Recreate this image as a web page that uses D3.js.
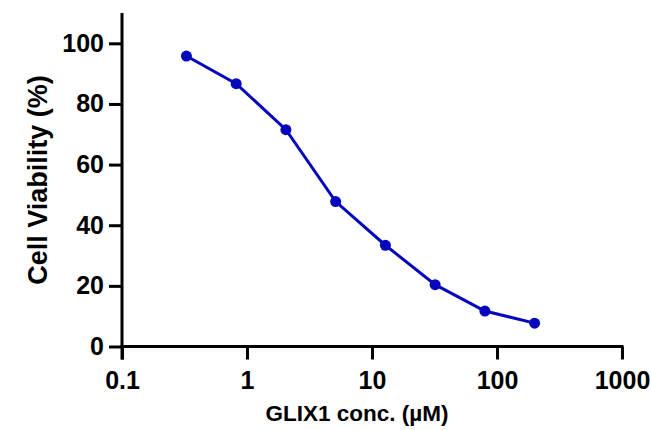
<!DOCTYPE html>
<html>
<head>
<meta charset="utf-8">
<script src="https://cdn.jsdelivr.net/npm/d3@7"></script>
<style>
  html, body { margin: 0; padding: 0; background: #fff; }
  svg { display: block; }
  text { font-family: "Liberation Sans", Arial, sans-serif; font-weight: bold; fill: #000; }
</style>
</head>
<body>
<svg id="chart" width="651" height="430"></svg>
<script>
// ---- data ----
const concentrations = [0.32768, 0.8192, 2.048, 5.12, 12.8, 32, 80, 200];
const viability = [95.8, 86.7, 71.5, 47.8, 33.4, 20.4, 11.7, 7.7];
const xTicks = [0.1, 1, 10, 100, 1000];
const xTickLabels = ["0.1", "1", "10", "100", "1000"];
const yTicks = [0, 20, 40, 60, 80, 100];
const xTitle = "GLIX1 conc. (µM)";
const yTitle = "Cell Viability (%)";

(function () {
const svg = d3.select("#chart");
const mLeft = 122, mRight = 622, mTop = 13, mBottom = 346.5;

const x = d3.scaleLog().domain([0.1, 1000]).range([mLeft, mRight]);
const y = d3.scaleLinear().domain([0, 110]).range([mBottom, mTop]);

const color = "#0606bc";

// axes
const xAxis = d3.axisBottom(x).tickValues(xTicks)
  .tickFormat((d, i) => xTickLabels[i]).tickSize(13).tickPadding(12).tickSizeOuter(0);
const yAxis = d3.axisLeft(y).tickValues(yTicks).tickSize(13).tickPadding(5).tickSizeOuter(0);

const gx = svg.append("g").attr("transform", `translate(0,${mBottom})`).call(xAxis);
gx.select(".domain").remove();
gx.append("line").attr("x1", mLeft - 1.5).attr("x2", mRight + 1.5).attr("stroke", "#000").attr("stroke-width", 3);
gx.selectAll(".tick line").attr("stroke", "#000").attr("stroke-width", 3);
gx.selectAll(".tick text").style("font-size", "25px").attr("fill", "#000");

const gy = svg.append("g").attr("transform", `translate(${mLeft},0)`).call(yAxis);
gy.select(".domain").remove();
gy.append("line").attr("y1", mTop).attr("y2", mBottom + 13).attr("stroke", "#000").attr("stroke-width", 3);
gy.selectAll(".tick line").attr("stroke", "#000").attr("stroke-width", 3);
gy.selectAll(".tick text").style("font-size", "25px").attr("fill", "#000");

// line
const data = concentrations.map((c, i) => ({ c, v: viability[i] }));
svg.append("path").datum(data)
  .attr("fill", "none").attr("stroke", color).attr("stroke-width", 3)
  .attr("d", d3.line().x(d => x(d.c)).y(d => y(d.v)));
svg.append("g").selectAll("circle").data(data).join("circle")
  .attr("cx", d => x(d.c)).attr("cy", d => y(d.v)).attr("r", 5.5).attr("fill", color);

// titles
svg.append("text").attr("x", 357).attr("y", 421)
  .attr("text-anchor", "middle").style("font-size", "22.5px").text(xTitle);
svg.append("text").attr("transform", `translate(47,180) rotate(-90)`)
  .attr("text-anchor", "middle").style("font-size", "27px").text(yTitle);
})();
</script>
</body>
</html>
